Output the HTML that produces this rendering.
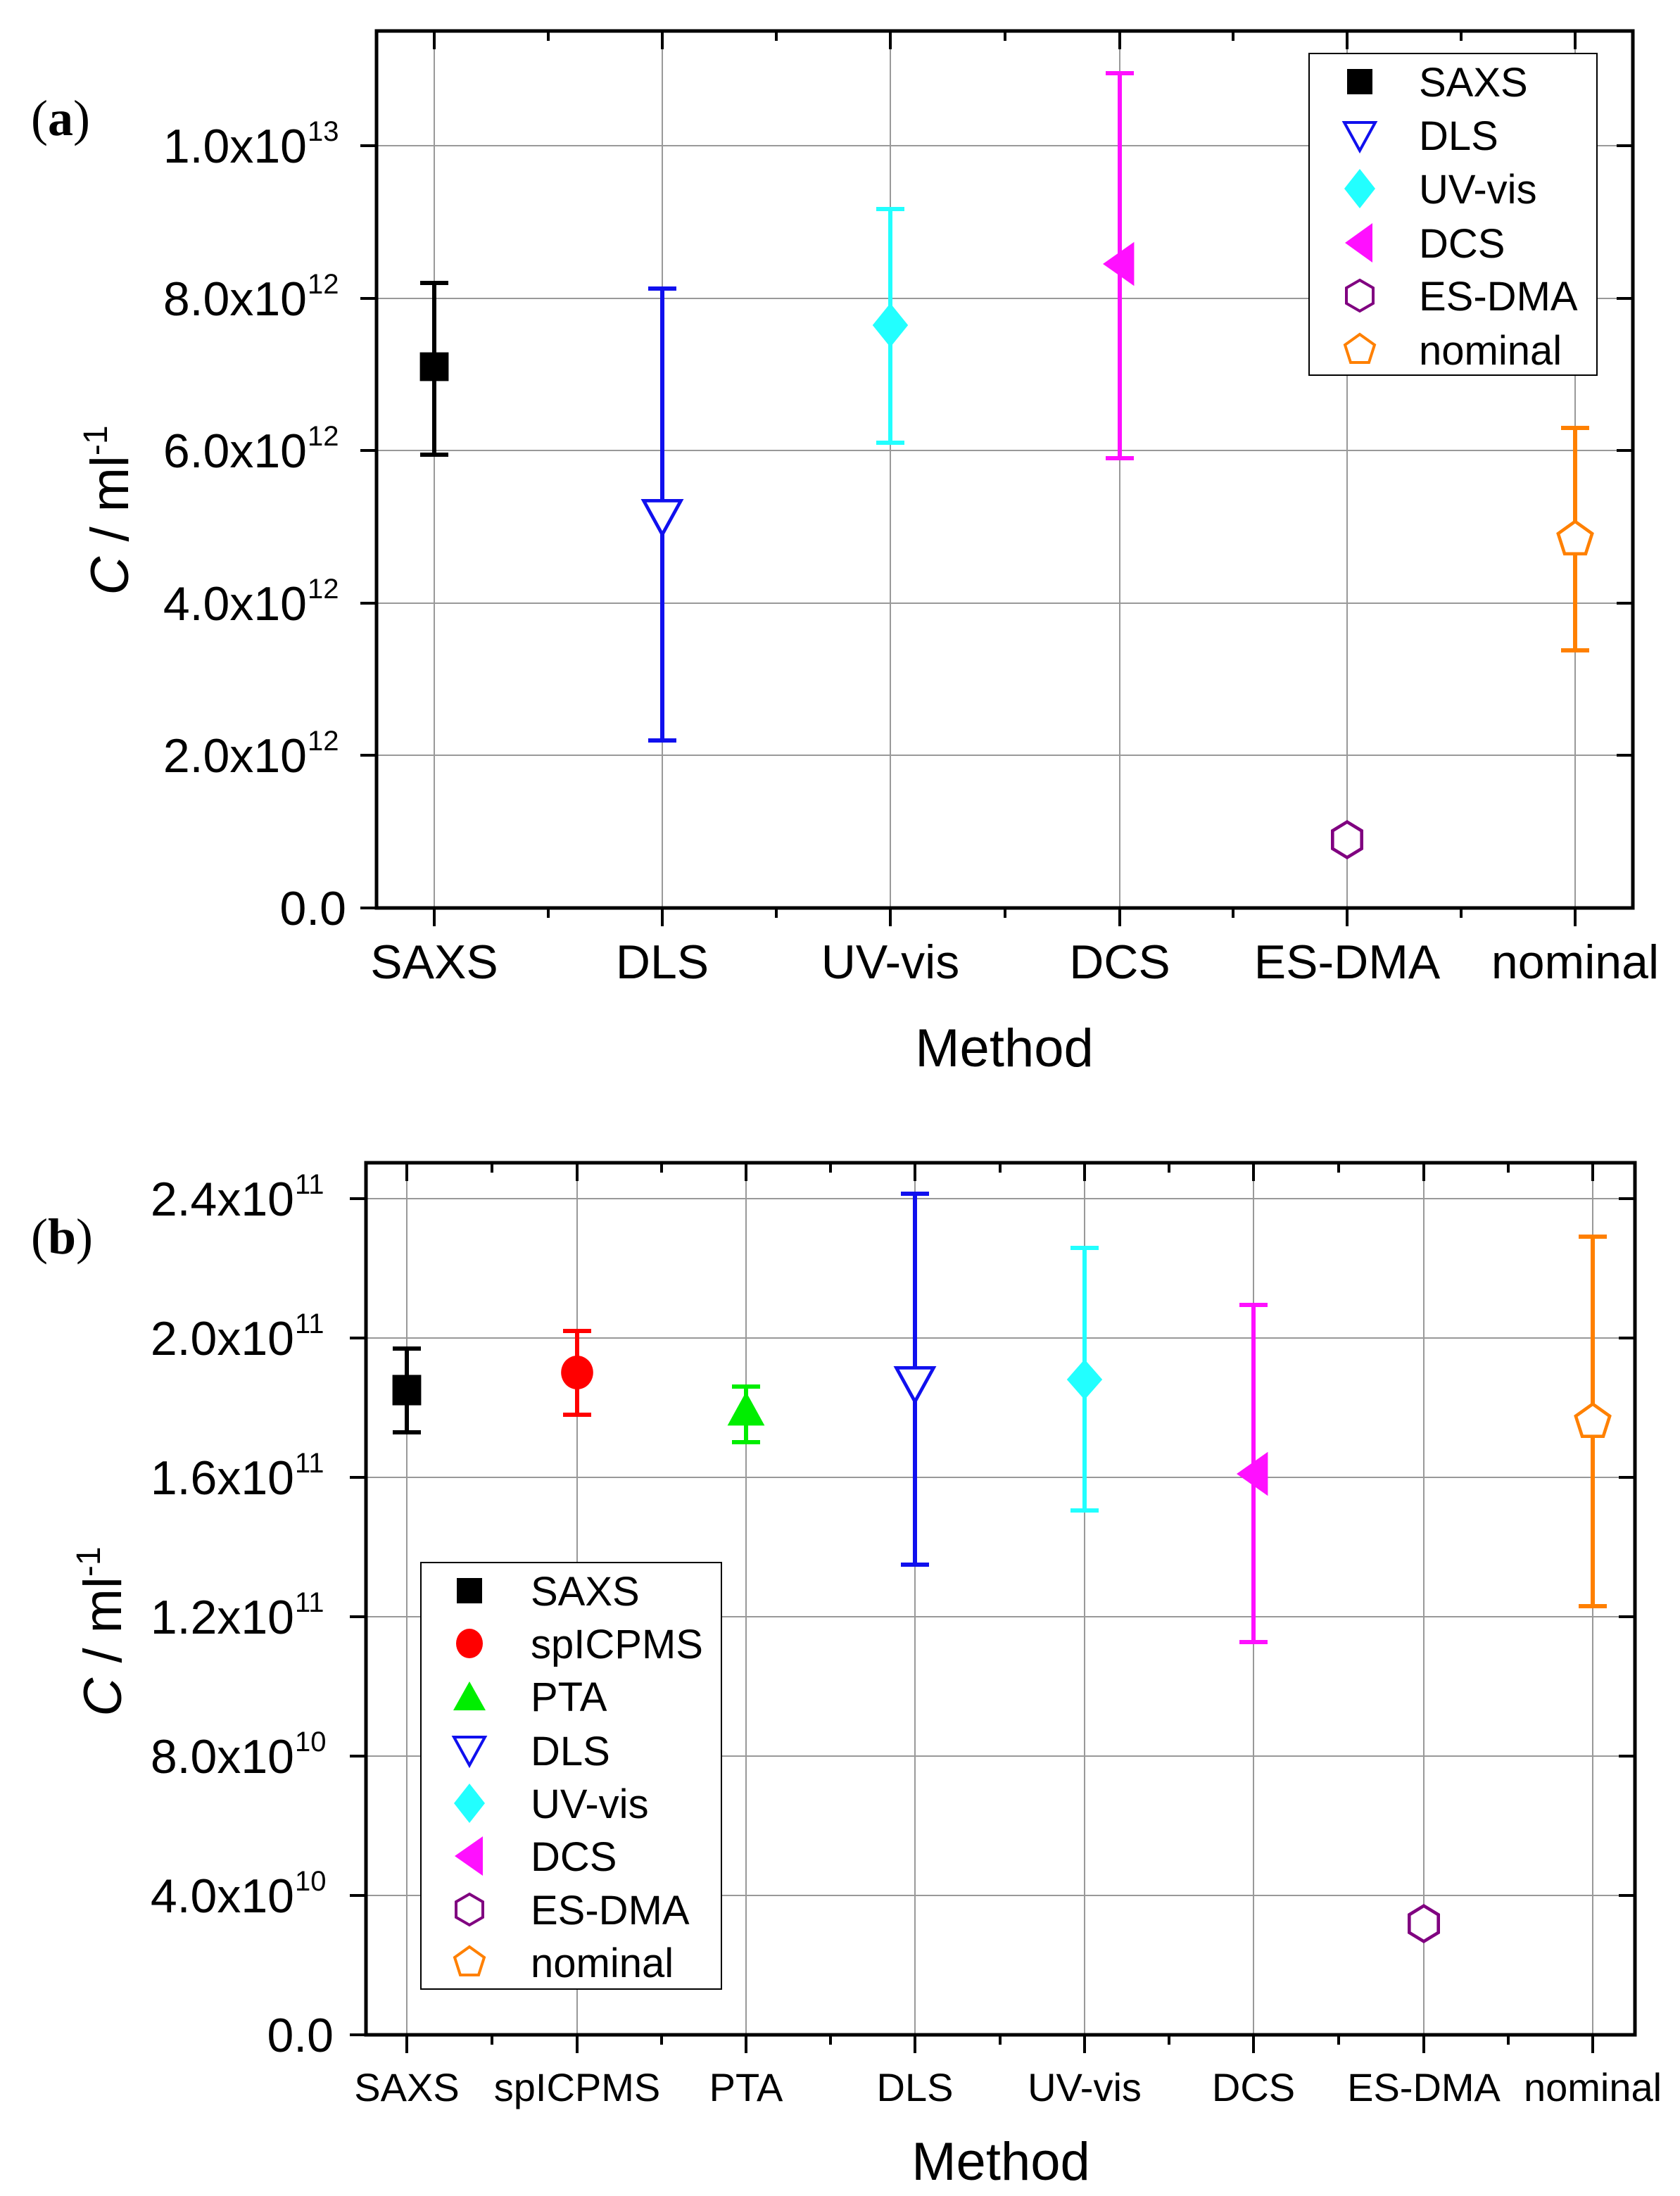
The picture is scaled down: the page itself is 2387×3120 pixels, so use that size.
<!DOCTYPE html>
<html><head><meta charset="utf-8"><style>
html,body{margin:0;padding:0;background:#fff;}
svg{display:block;}
text{font-family:"Liberation Sans",Arial,sans-serif;fill:#000;}
</style></head><body>
<svg width="2387" height="3120" viewBox="0 0 2387 3120" xmlns="http://www.w3.org/2000/svg">
<rect width="2387" height="3120" fill="#fff"/>

<!-- ============ PANEL A ============ -->
<g stroke="#999" stroke-width="2">
<line x1="535" x2="2320" y1="207" y2="207"/><line x1="535" x2="2320" y1="424" y2="424"/><line x1="535" x2="2320" y1="640" y2="640"/><line x1="535" x2="2320" y1="857" y2="857"/><line x1="535" x2="2320" y1="1073" y2="1073"/>
<line x1="617" x2="617" y1="44" y2="1290"/><line x1="941" x2="941" y1="44" y2="1290"/><line x1="1265" x2="1265" y1="44" y2="1290"/><line x1="1591" x2="1591" y1="44" y2="1290"/><line x1="1914" x2="1914" y1="44" y2="1290"/><line x1="2238" x2="2238" y1="44" y2="1290"/>
</g>
<g stroke="#000" stroke-width="4">
<line x1="617" x2="617" y1="1290" y2="1316"/><line x1="941" x2="941" y1="1290" y2="1316"/><line x1="1265" x2="1265" y1="1290" y2="1316"/><line x1="1591" x2="1591" y1="1290" y2="1316"/><line x1="1914" x2="1914" y1="1290" y2="1316"/><line x1="2238" x2="2238" y1="1290" y2="1316"/>
<line x1="779" x2="779" y1="1290" y2="1304"/><line x1="1103" x2="1103" y1="1290" y2="1304"/><line x1="1428" x2="1428" y1="1290" y2="1304"/><line x1="1752" x2="1752" y1="1290" y2="1304"/><line x1="2076" x2="2076" y1="1290" y2="1304"/>
<line x1="617" x2="617" y1="44" y2="70"/><line x1="941" x2="941" y1="44" y2="70"/><line x1="1265" x2="1265" y1="44" y2="70"/><line x1="1591" x2="1591" y1="44" y2="70"/><line x1="1914" x2="1914" y1="44" y2="70"/><line x1="2238" x2="2238" y1="44" y2="70"/>
<line x1="779" x2="779" y1="44" y2="58"/><line x1="1103" x2="1103" y1="44" y2="58"/><line x1="1428" x2="1428" y1="44" y2="58"/><line x1="1752" x2="1752" y1="44" y2="58"/><line x1="2076" x2="2076" y1="44" y2="58"/>
<line x1="512" x2="535" y1="207" y2="207"/><line x1="512" x2="535" y1="424" y2="424"/><line x1="512" x2="535" y1="640" y2="640"/><line x1="512" x2="535" y1="857" y2="857"/><line x1="512" x2="535" y1="1073" y2="1073"/><line x1="512" x2="535" y1="1290" y2="1290"/>
<line x1="2297" x2="2320" y1="207" y2="207"/><line x1="2297" x2="2320" y1="424" y2="424"/><line x1="2297" x2="2320" y1="640" y2="640"/><line x1="2297" x2="2320" y1="857" y2="857"/><line x1="2297" x2="2320" y1="1073" y2="1073"/>
</g>
<rect x="535" y="44" width="1785" height="1246" fill="none" stroke="#000" stroke-width="5"/>

<!-- error bars A -->
<g stroke-width="6" fill="none">
<g stroke="#000"><line x1="617" x2="617" y1="402" y2="646"/><line x1="597" x2="637" y1="402" y2="402"/><line x1="597" x2="637" y1="646" y2="646"/></g>
<g stroke="#1010ee"><line x1="941" x2="941" y1="410" y2="1052"/><line x1="921" x2="961" y1="410" y2="410"/><line x1="921" x2="961" y1="1052" y2="1052"/></g>
<g stroke="#22ffff"><line x1="1265" x2="1265" y1="297" y2="629"/><line x1="1245" x2="1285" y1="297" y2="297"/><line x1="1245" x2="1285" y1="629" y2="629"/></g>
<g stroke="#ff10ff"><line x1="1591" x2="1591" y1="104" y2="651"/><line x1="1571" x2="1611" y1="104" y2="104"/><line x1="1571" x2="1611" y1="651" y2="651"/></g>
<g stroke="#ff8000"><line x1="2238" x2="2238" y1="608" y2="924"/><line x1="2218" x2="2258" y1="608" y2="608"/><line x1="2218" x2="2258" y1="924" y2="924"/></g>
</g>
<!-- markers A -->
<g transform="translate(617,521) scale(1.2) translate(-617,-521)"><rect x="600" y="504" width="34" height="34" fill="#000"/></g>
<g transform="translate(941,733) scale(1.2) translate(-941,-733)"><polygon points="919,715 963,715 941,755" fill="#fff" stroke="#1010ee" stroke-width="4"/></g>
<g transform="translate(1265,462) scale(1.2) translate(-1265,-462)"><polygon points="1265,436 1286,462 1265,488 1244,462" fill="#22ffff"/></g>
<g transform="translate(1591,375) scale(1.2) translate(-1591,-375)"><polygon points="1571,375 1608,349 1608,401" fill="#ff10ff"/></g>
<g transform="translate(1914,1193) scale(1.15) translate(-1914,-1193)"><polygon points="1914,1171 1932,1182 1932,1204 1914,1215 1896,1204 1896,1182" fill="#fff" stroke="#800080" stroke-width="4"/></g>
<g transform="translate(2238,765) scale(1.15) translate(-2238,-765)"><polygon points="2238,744 2259,759 2251,784 2225,784 2217,759" fill="#fff" stroke="#ff8000" stroke-width="4"/></g>

<!-- legend A -->
<rect x="1860" y="76" width="409" height="457" fill="#fff" stroke="#000" stroke-width="2"/>
<rect x="1914" y="98" width="36" height="36" fill="#000"/>
<polygon points="1910,174 1954,174 1932,214" fill="#fff" stroke="#1010ee" stroke-width="4"/>
<polygon points="1932,240 1954,268 1932,296 1910,268" fill="#22ffff"/>
<polygon points="1911,345 1950,317 1950,373" fill="#ff10ff"/>
<polygon points="1932,398 1951,409 1951,431 1932,442 1913,431 1913,409" fill="#fff" stroke="#800080" stroke-width="4"/>
<polygon points="1932,475 1953,490 1945,515 1919,515 1911,490" fill="#fff" stroke="#ff8000" stroke-width="4"/>
<g font-size="58">
<text x="2016" y="137">SAXS</text><text x="2016" y="213">DLS</text><text x="2016" y="289">UV-vis</text><text x="2016" y="366">DCS</text><text x="2016" y="441">ES-DMA</text><text x="2016" y="518">nominal</text>
</g>

<!-- y tick labels A -->
<g font-size="68" text-anchor="end">
<text x="436" y="231">1.0x10</text><text x="436" y="448">8.0x10</text><text x="436" y="664">6.0x10</text><text x="436" y="881">4.0x10</text><text x="436" y="1097">2.0x10</text><text x="492" y="1314">0.0</text>
</g>
<g font-size="40">
<text x="437" y="200">13</text><text x="437" y="417">12</text><text x="437" y="633">12</text><text x="437" y="850">12</text><text x="437" y="1066">12</text>
</g>
<!-- x labels A -->
<g font-size="68" text-anchor="middle">
<text x="617" y="1390">SAXS</text><text x="941" y="1390">DLS</text><text x="1265" y="1390">UV-vis</text><text x="1591" y="1390">DCS</text><text x="1914" y="1390">ES-DMA</text><text x="2238" y="1390">nominal</text>
</g>
<text x="1427" y="1515" font-size="76" text-anchor="middle">Method</text>
<text transform="translate(182,725) rotate(-90)" font-size="76" text-anchor="middle"><tspan font-style="italic">C</tspan> / ml<tspan font-size="48" dy="-30">-1</tspan></text>
<text x="44" y="192" font-size="72" style="font-family:'Liberation Serif',serif">(<tspan font-weight="bold">a</tspan>)</text>

<!-- ============ PANEL B ============ -->
<g stroke="#999" stroke-width="2">
<line x1="520" x2="2323" y1="1703" y2="1703"/><line x1="520" x2="2323" y1="1901" y2="1901"/><line x1="520" x2="2323" y1="2099" y2="2099"/><line x1="520" x2="2323" y1="2297" y2="2297"/><line x1="520" x2="2323" y1="2495" y2="2495"/><line x1="520" x2="2323" y1="2693" y2="2693"/>
<line x1="578" x2="578" y1="1652" y2="2891"/><line x1="820" x2="820" y1="1652" y2="2891"/><line x1="1060" x2="1060" y1="1652" y2="2891"/><line x1="1300" x2="1300" y1="1652" y2="2891"/><line x1="1541" x2="1541" y1="1652" y2="2891"/><line x1="1781" x2="1781" y1="1652" y2="2891"/><line x1="2023" x2="2023" y1="1652" y2="2891"/><line x1="2263" x2="2263" y1="1652" y2="2891"/>
</g>
<g stroke="#000" stroke-width="4">
<line x1="578" x2="578" y1="2891" y2="2917"/><line x1="820" x2="820" y1="2891" y2="2917"/><line x1="1060" x2="1060" y1="2891" y2="2917"/><line x1="1300" x2="1300" y1="2891" y2="2917"/><line x1="1541" x2="1541" y1="2891" y2="2917"/><line x1="1781" x2="1781" y1="2891" y2="2917"/><line x1="2023" x2="2023" y1="2891" y2="2917"/><line x1="2263" x2="2263" y1="2891" y2="2917"/>
<line x1="699" x2="699" y1="2891" y2="2905"/><line x1="940" x2="940" y1="2891" y2="2905"/><line x1="1180" x2="1180" y1="2891" y2="2905"/><line x1="1421" x2="1421" y1="2891" y2="2905"/><line x1="1661" x2="1661" y1="2891" y2="2905"/><line x1="1902" x2="1902" y1="2891" y2="2905"/><line x1="2143" x2="2143" y1="2891" y2="2905"/>
<line x1="578" x2="578" y1="1652" y2="1678"/><line x1="820" x2="820" y1="1652" y2="1678"/><line x1="1060" x2="1060" y1="1652" y2="1678"/><line x1="1300" x2="1300" y1="1652" y2="1678"/><line x1="1541" x2="1541" y1="1652" y2="1678"/><line x1="1781" x2="1781" y1="1652" y2="1678"/><line x1="2023" x2="2023" y1="1652" y2="1678"/><line x1="2263" x2="2263" y1="1652" y2="1678"/>
<line x1="699" x2="699" y1="1652" y2="1666"/><line x1="940" x2="940" y1="1652" y2="1666"/><line x1="1180" x2="1180" y1="1652" y2="1666"/><line x1="1421" x2="1421" y1="1652" y2="1666"/><line x1="1661" x2="1661" y1="1652" y2="1666"/><line x1="1902" x2="1902" y1="1652" y2="1666"/><line x1="2143" x2="2143" y1="1652" y2="1666"/>
<line x1="497" x2="520" y1="1703" y2="1703"/><line x1="497" x2="520" y1="1901" y2="1901"/><line x1="497" x2="520" y1="2099" y2="2099"/><line x1="497" x2="520" y1="2297" y2="2297"/><line x1="497" x2="520" y1="2495" y2="2495"/><line x1="497" x2="520" y1="2693" y2="2693"/><line x1="497" x2="520" y1="2891" y2="2891"/>
<line x1="2300" x2="2323" y1="1703" y2="1703"/><line x1="2300" x2="2323" y1="1901" y2="1901"/><line x1="2300" x2="2323" y1="2099" y2="2099"/><line x1="2300" x2="2323" y1="2297" y2="2297"/><line x1="2300" x2="2323" y1="2495" y2="2495"/><line x1="2300" x2="2323" y1="2693" y2="2693"/>
</g>
<rect x="520" y="1652" width="1803" height="1239" fill="none" stroke="#000" stroke-width="5"/>

<!-- error bars B -->
<g stroke-width="6" fill="none">
<g stroke="#000"><line x1="578" x2="578" y1="1916" y2="2035"/><line x1="558" x2="598" y1="1916" y2="1916"/><line x1="558" x2="598" y1="2035" y2="2035"/></g>
<g stroke="#ff0000"><line x1="820" x2="820" y1="1891" y2="2010"/><line x1="800" x2="840" y1="1891" y2="1891"/><line x1="800" x2="840" y1="2010" y2="2010"/></g>
<g stroke="#00ee00"><line x1="1060" x2="1060" y1="1970" y2="2049"/><line x1="1040" x2="1080" y1="1970" y2="1970"/><line x1="1040" x2="1080" y1="2049" y2="2049"/></g>
<g stroke="#1010ee"><line x1="1300" x2="1300" y1="1696" y2="2223"/><line x1="1280" x2="1320" y1="1696" y2="1696"/><line x1="1280" x2="1320" y1="2223" y2="2223"/></g>
<g stroke="#22ffff"><line x1="1541" x2="1541" y1="1773" y2="2146"/><line x1="1521" x2="1561" y1="1773" y2="1773"/><line x1="1521" x2="1561" y1="2146" y2="2146"/></g>
<g stroke="#ff10ff"><line x1="1781" x2="1781" y1="1854" y2="2333"/><line x1="1761" x2="1801" y1="1854" y2="1854"/><line x1="1761" x2="1801" y1="2333" y2="2333"/></g>
<g stroke="#ff8000"><line x1="2263" x2="2263" y1="1757" y2="2282"/><line x1="2243" x2="2283" y1="1757" y2="1757"/><line x1="2243" x2="2283" y1="2282" y2="2282"/></g>
</g>
<!-- markers B -->
<g transform="translate(578,1975) scale(1.2) translate(-578,-1975)"><rect x="561" y="1957" width="34" height="36" fill="#000"/></g>
<g transform="translate(820,1950) scale(1.2) translate(-820,-1950)"><ellipse cx="820" cy="1950" rx="19" ry="20" fill="#ff0000"/></g>
<g transform="translate(1060,2005) scale(1.2) translate(-1060,-2005)"><polygon points="1060,1982 1082,2022 1038,2022" fill="#00ee00"/></g>
<g transform="translate(1300,1965) scale(1.2) translate(-1300,-1965)"><polygon points="1278,1947 1322,1947 1300,1987" fill="#fff" stroke="#1010ee" stroke-width="4"/></g>
<g transform="translate(1541,1960) scale(1.2) translate(-1541,-1960)"><polygon points="1541,1936 1562,1960 1541,1984 1520,1960" fill="#22ffff"/></g>
<g transform="translate(1781,2094) scale(1.2) translate(-1781,-2094)"><polygon points="1761,2094 1798,2068 1798,2120" fill="#ff10ff"/></g>
<g transform="translate(2023,2733) scale(1.15) translate(-2023,-2733)"><polygon points="2023,2711 2041,2722 2041,2744 2023,2755 2005,2744 2005,2722" fill="#fff" stroke="#800080" stroke-width="4"/></g>
<g transform="translate(2263,2020) scale(1.15) translate(-2263,-2020)"><polygon points="2263,1998 2284,2013 2276,2038 2250,2038 2242,2013" fill="#fff" stroke="#ff8000" stroke-width="4"/></g>

<!-- legend B -->
<rect x="598" y="2220" width="427" height="606" fill="#fff" stroke="#000" stroke-width="2"/>
<rect x="649" y="2242" width="36" height="36" fill="#000"/>
<ellipse cx="667" cy="2335" rx="19" ry="21" fill="#ff0000"/>
<polygon points="667,2389 690,2430 644,2430" fill="#00ee00"/>
<polygon points="645,2468 689,2468 667,2508" fill="#fff" stroke="#1010ee" stroke-width="4"/>
<polygon points="667,2534 689,2562 667,2590 645,2562" fill="#22ffff"/>
<polygon points="646,2637 686,2609 686,2665" fill="#ff10ff"/>
<polygon points="667,2691 686,2702 686,2724 667,2735 648,2724 648,2702" fill="#fff" stroke="#800080" stroke-width="4"/>
<polygon points="667,2766 688,2781 680,2806 654,2806 646,2781" fill="#fff" stroke="#ff8000" stroke-width="4"/>
<g font-size="58">
<text x="754" y="2281">SAXS</text><text x="754" y="2356">spICPMS</text><text x="754" y="2431">PTA</text><text x="754" y="2508">DLS</text><text x="754" y="2583">UV-vis</text><text x="754" y="2658">DCS</text><text x="754" y="2734">ES-DMA</text><text x="754" y="2809">nominal</text>
</g>

<!-- y tick labels B -->
<g font-size="68" text-anchor="end">
<text x="418" y="1727">2.4x10</text><text x="418" y="1925">2.0x10</text><text x="418" y="2123">1.6x10</text><text x="418" y="2321">1.2x10</text><text x="418" y="2519">8.0x10</text><text x="418" y="2717">4.0x10</text><text x="474" y="2915">0.0</text>
</g>
<g font-size="40">
<text x="419" y="1696">11</text><text x="419" y="1894">11</text><text x="419" y="2092">11</text><text x="419" y="2290">11</text><text x="419" y="2488">10</text><text x="419" y="2686">10</text>
</g>
<!-- x labels B -->
<g font-size="56" text-anchor="middle">
<text x="578" y="2985">SAXS</text><text x="820" y="2985">spICPMS</text><text x="1060" y="2985">PTA</text><text x="1300" y="2985">DLS</text><text x="1541" y="2985">UV-vis</text><text x="1781" y="2985">DCS</text><text x="2023" y="2985">ES-DMA</text><text x="2263" y="2985">nominal</text>
</g>
<text x="1422" y="3097" font-size="76" text-anchor="middle">Method</text>
<text transform="translate(172,2318) rotate(-90)" font-size="76" text-anchor="middle"><tspan font-style="italic">C</tspan> / ml<tspan font-size="48" dy="-30">-1</tspan></text>
<text x="44" y="1781" font-size="72" style="font-family:'Liberation Serif',serif">(<tspan font-weight="bold">b</tspan>)</text>
</svg>
</body></html>
